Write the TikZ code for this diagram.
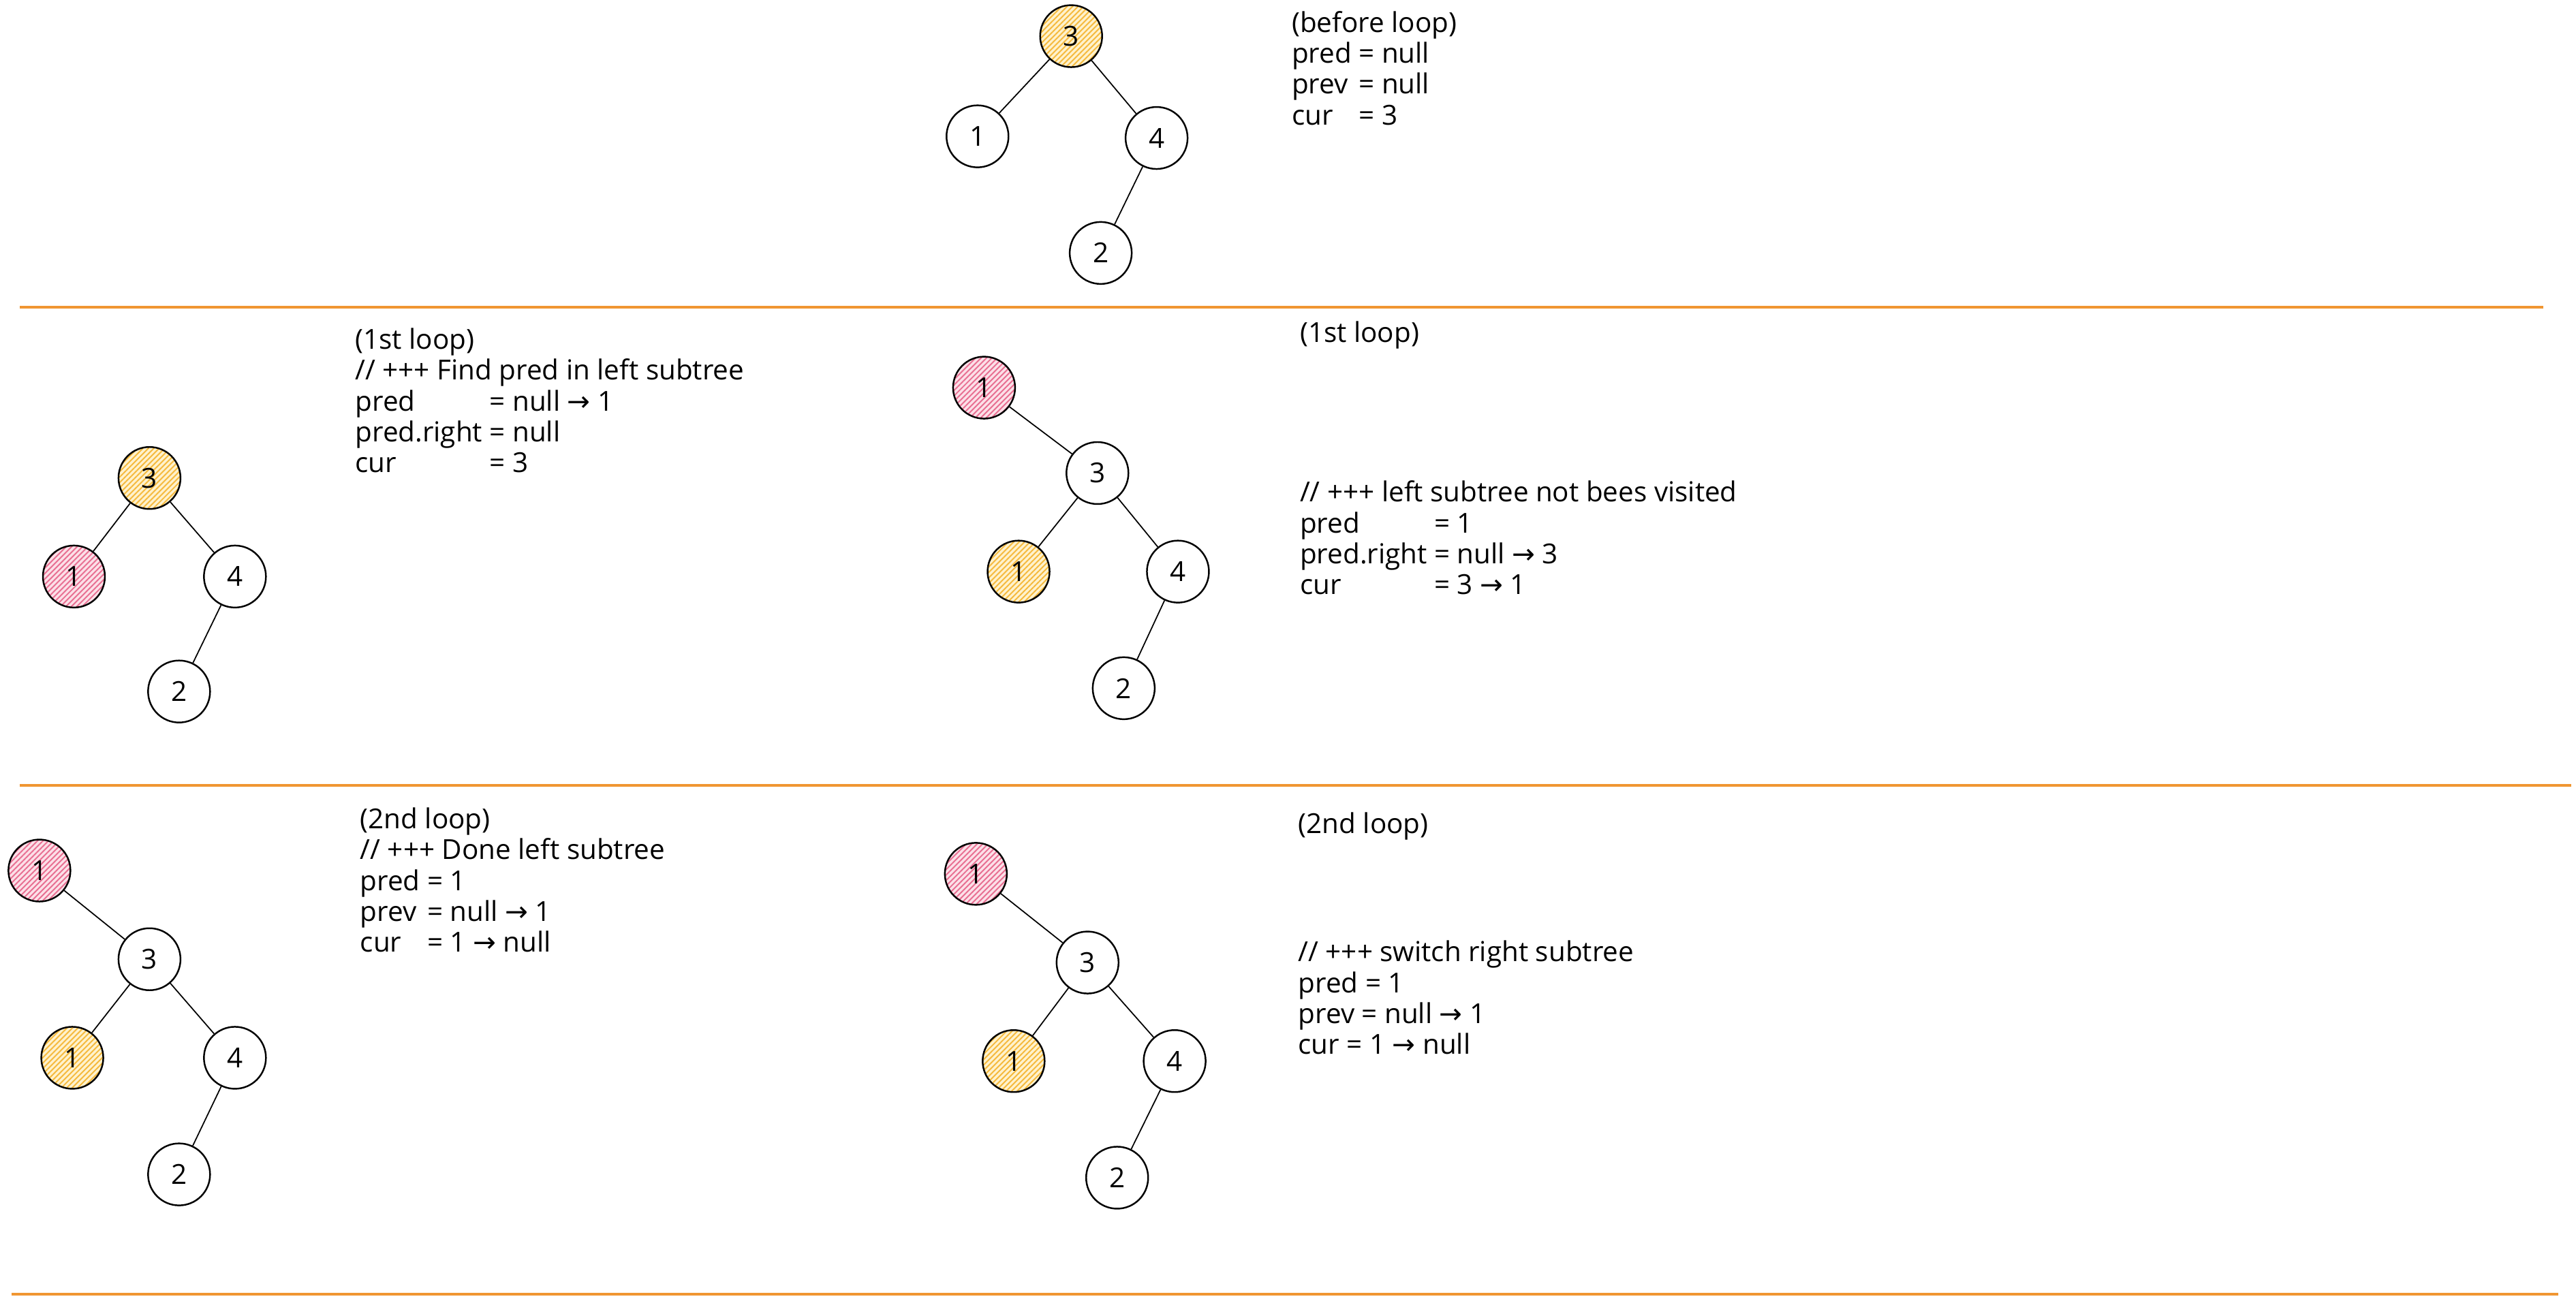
\documentclass[tikz,border=0pt]{standalone}
\usepackage{fontspec}
\setmainfont{Open Sans}
\newfontfamily\arrfont{DejaVu Sans}
\newcommand{\ar}{{\arrfont →}}
\usetikzlibrary{patterns.meta}
\definecolor{sepc}{RGB}{240,150,50}
\definecolor{hatchO}{RGB}{245,185,60}
\definecolor{fillO}{RGB}{255,242,205}
\definecolor{hatchP}{RGB}{232,110,145}
\definecolor{fillP}{RGB}{252,224,232}
\begin{document}
\begin{tikzpicture}[x=0.24114mm,y=-0.24114mm,
  tnode/.style={circle,draw=black,line width=0.7pt,minimum size=9.1mm,inner sep=0pt,font=\fontsize{11.5}{12}\selectfont},
  onode/.style={tnode,preaction={fill=fillO},pattern={Lines[angle=45,distance=1.6pt,line width=0.55pt]},pattern color=hatchO},
  pnode/.style={tnode,preaction={fill=fillP},pattern={Lines[angle=45,distance=1.6pt,line width=0.55pt]},pattern color=hatchP},
  edge/.style={line width=0.5pt},
  sepline/.style={draw=sepc,line width=1.1pt},
  code/.style={anchor=base west,inner sep=0pt,font=\fontsize{11.5}{12.9}\selectfont}]
\useasboundingbox (0,0) rectangle (1568,792);

% ---------- panel 0 (before loop)
\node[onode] (a3) at (652,22) {3};
\node[tnode] (a1) at (595,83) {1};
\node[tnode] (a4) at (704,84) {4};
\node[tnode] (a2) at (670,154) {2};
\draw[edge] (a3) -- (a1);
\draw[edge] (a3) -- (a4);
\draw[edge] (a4) -- (a2);
\node[code] (ta) at (786,19.5) {\begin{tabular}[t]{@{}l@{\ }l@{}}
\multicolumn{2}{@{}l@{}}{(before loop)}\\
pred & = null\\
prev & = null\\
cur  & = 3
\end{tabular}};

\draw[sepline] (12,187) -- (1548,187);

% ---------- panel 1 left
\node[onode] (b3) at (91,291) {3};
\node[pnode] (b1) at (45,351) {1};
\node[tnode] (b4) at (143,351) {4};
\node[tnode] (b2) at (109,421) {2};
\draw[edge] (b3) -- (b1);
\draw[edge] (b3) -- (b4);
\draw[edge] (b4) -- (b2);
\node[code] (tb) at (216,212.5) {\begin{tabular}[t]{@{}l@{\ }l@{}}
\multicolumn{2}{@{}l@{}}{(1st loop)}\\
\multicolumn{2}{@{}l@{}}{// +++ Find pred in left subtree}\\
pred       & = null \ar\ 1\\
pred.right & = null\\
cur        & = 3
\end{tabular}};

% ---------- panel 1 right
\node[pnode] (c1p) at (599,236) {1};
\node[tnode] (c3) at (668,288) {3};
\node[onode] (c1) at (620,348) {1};
\node[tnode] (c4) at (717,348) {4};
\node[tnode] (c2) at (684,419) {2};
\draw[edge] (c1p) -- (c3);
\draw[edge] (c3) -- (c1);
\draw[edge] (c3) -- (c4);
\draw[edge] (c4) -- (c2);
\node[code] (tc0) at (791,208.5) {(1st loop)};
\node[code] (tc) at (791,305.5) {\begin{tabular}[t]{@{}l@{\ }l@{}}
\multicolumn{2}{@{}l@{}}{// +++ left subtree not bees visited}\\
pred       & = 1\\
pred.right & = null \ar\ 3\\
cur        & = 3 \ar\ 1
\end{tabular}};

\draw[sepline] (12,478) -- (1565,478);

% ---------- panel 2 left
\node[pnode] (d1p) at (24,530) {1};
\node[tnode] (d3) at (91,584) {3};
\node[onode] (d1) at (44,644) {1};
\node[tnode] (d4) at (143,644) {4};
\node[tnode] (d2) at (109,715) {2};
\draw[edge] (d1p) -- (d3);
\draw[edge] (d3) -- (d1);
\draw[edge] (d3) -- (d4);
\draw[edge] (d4) -- (d2);
\node[code] (td) at (219,504.5) {\begin{tabular}[t]{@{}l@{\ }l@{}}
\multicolumn{2}{@{}l@{}}{(2nd loop)}\\
\multicolumn{2}{@{}l@{}}{// +++ Done left subtree}\\
pred & = 1\\
prev & = null \ar\ 1\\
cur  & = 1 \ar\ null
\end{tabular}};

% ---------- panel 2 right
\node[pnode] (e1p) at (594,532) {1};
\node[tnode] (e3) at (662,586) {3};
\node[onode] (e1) at (617,646) {1};
\node[tnode] (e4) at (715,646) {4};
\node[tnode] (e2) at (680,717) {2};
\draw[edge] (e1p) -- (e3);
\draw[edge] (e3) -- (e1);
\draw[edge] (e3) -- (e4);
\draw[edge] (e4) -- (e2);
\node[code] (te0) at (790,507.5) {(2nd loop)};
\node[code] (te) at (790,585.5) {\begin{tabular}[t]{@{}l@{}}
// +++ switch right subtree\\
pred = 1\\
prev = null \ar\ 1\\
cur = 1 \ar\ null
\end{tabular}};

\draw[sepline] (7,788) -- (1557,788);
\end{tikzpicture}
\end{document}
